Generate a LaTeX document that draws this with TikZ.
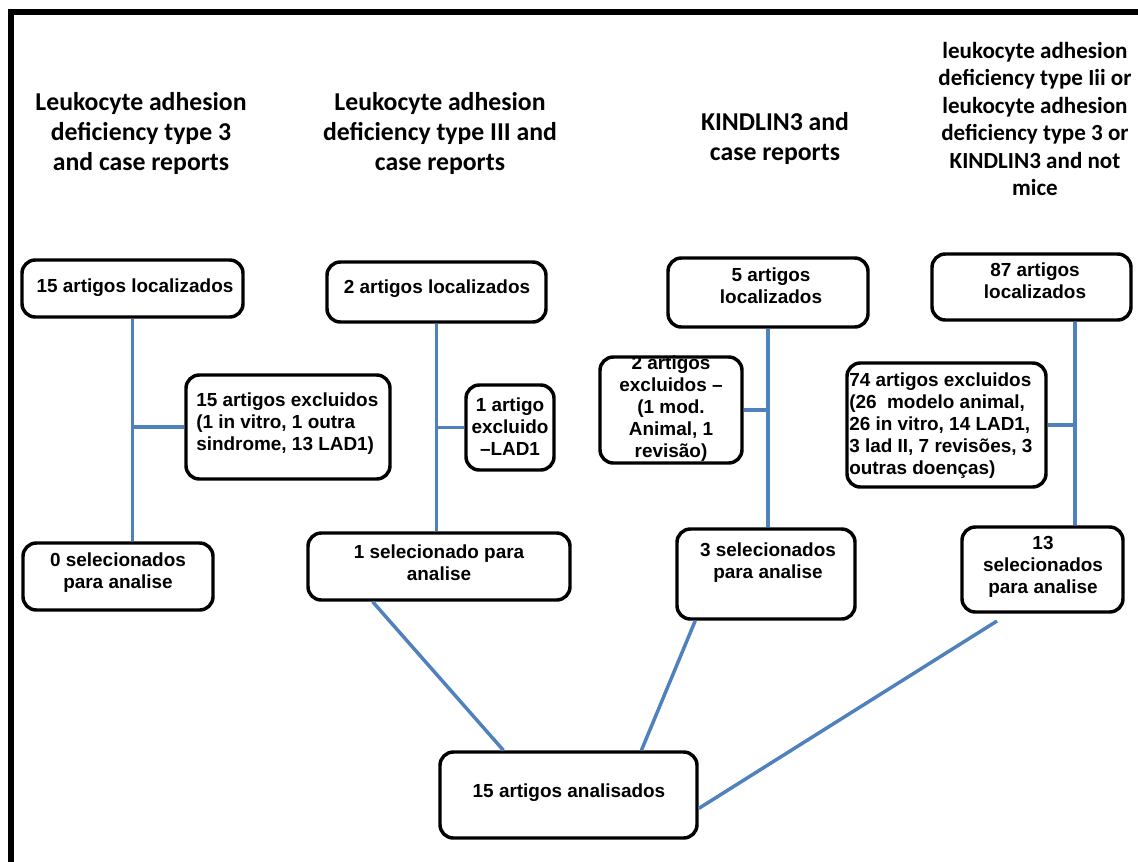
\documentclass[tikz,border=0pt]{standalone}
\usepackage{fontspec}
\setmainfont{Liberation Sans}
\newfontfamily\headfont{Carlito}
\usetikzlibrary{calc}
\definecolor{linkblue}{RGB}{79,129,189}
\begin{document}
\begin{tikzpicture}[x=0.75pt,y=-0.75pt,
  box/.style 2 args={draw=black, line width=2.6pt, rounded corners=10pt, fill=white,
    inner sep=0pt, minimum width=#1*0.75pt, minimum height=#2*0.75pt},
  boxtext/.style={font=\bfseries\fontsize{14.2pt}{16.5pt}\selectfont, align=center, inner sep=0pt},
  head/.style={font=\headfont\bfseries\fontsize{19.3pt}{22.5pt}\selectfont, align=center, inner sep=0pt},
  smallhead/.style={font=\headfont\bfseries\fontsize{17.3pt}{20.6pt}\selectfont, align=center, inner sep=0pt},
  link/.style={draw=linkblue, line width=2.6pt}]
\useasboundingbox[fill=white] (0,0) rectangle (1138,861);

% frame on the left and top
\draw[line width=4.5pt] (11,880) -- (11,12) -- (1150,12);

% column headings
\node[head] (T1) at (141,133) {Leukocyte adhesion\\deficiency type 3\\and case reports};
\node[head] (T2) at (440,133) {Leukocyte adhesion\\deficiency type III and\\case reports};
\node[head] (T3) at (775,138) {KINDLIN3 and\\case reports};
\node[smallhead] (T4) at (1035,119) {leukocyte adhesion\\deficiency type Iii or\\leukocyte adhesion\\deficiency type 3 or\\KINDLIN3 and not\\mice};

% located
\node[box={221}{57}] (A1) at (132.5,288.5) {};
\node[box={219}{60}] (A2) at (436.5,292) {};
\node[box={200}{69}] (A3) at (768,292.5) {};
\node[box={199}{66}] (A4) at (1031.5,287) {};
% excluded
\node[box={204}{104}] (E1) at (288,427) {};
\node[box={88}{85}] (E2) at (510,427.5) {};
\node[box={142}{106}] (E3) at (671,410) {};
\node[box={199}{124}] (E4) at (946.5,425) {};
% selected
\node[box={190}{67}] (S1) at (118,576.5) {};
\node[box={262}{67}] (S2) at (439,566.5) {};
\node[box={178}{90}] (S3) at (766,574) {};
\node[box={161}{85}] (S4) at (1042.5,569.5) {};
% analysed
\node[box={257}{86}] (F) at (568.5,795) {};

% box texts
\node[boxtext] (A1t) at (135,288) {15 artigos localizados};
\node[boxtext] (A2t) at (437,289) {2 artigos localizados};
\node[boxtext] (A3t) at (771,286) {5 artigos\\localizados};
\node[boxtext] (A4t) at (1035,281) {87 artigos\\localizados};
\node[boxtext, anchor=west, align=left] (E1t) at (196,424) {15 artigos excluidos\\(1 in vitro, 1 outra\\sindrome, 13 LAD1)};
\node[boxtext] (E2t) at (510,427) {1 artigo\\excluido\\–LAD1};
\node[boxtext] (E3t) at (671,409) {2 artigos\\excluidos –\\(1 mod.\\Animal, 1\\revisão)};
\node[boxtext, anchor=west, align=left] (E4t) at (849,426) {74 artigos excluidos\\(26\ \ modelo animal,\\26 in vitro, 14 LAD1,\\3 lad II, 7 revisões, 3\\outras doenças)};
\node[boxtext] (S1t) at (118,573) {0 selecionados\\para analise};
\node[boxtext] (S2t) at (439,563) {1 selecionado para\\analise};
\node[boxtext] (S3t) at (768,563) {3 selecionados\\para analise};
\node[boxtext] (S4t) at (1043,567) {13\\selecionados\\para analise};
\node[boxtext] (Ft) at (569,793) {15 artigos analisados};

% vertical flows and side branches
\coordinate (v4) at (1075,0);
\draw[link] (A1.south) -- (A1.south |- S1.north);
\draw[link] (E1.west) -- (E1.west -| A1.south);
\draw[link] (A2.south) -- (A2.south |- S2.north);
\draw[link] (E2.west) -- (E2.west -| A2.south);
\draw[link] (A3.south) -- (A3.south |- S3.north);
\draw[link] (E3.east) -- (E3.east -| A3.south);
\draw[link] (A4.south -| v4) -- (S4.north -| v4);
\draw[link] (E4.east) -- (E4.east -| v4);

% merging into the final box
\coordinate (s4end) at (997,621);
\draw[link] ($(S2.south west)!0.25!(S2.south east)$) -- ($(F.north west)!0.25!(F.north east)$);
\draw[link] ($(S3.south west)!0.11!(S3.south east)$) -- ($(F.north west)!0.78!(F.north east)$);
\draw[link] (s4end) -- ($(F.north east)!0.65!(F.south east)$);
\end{tikzpicture}
\end{document}
